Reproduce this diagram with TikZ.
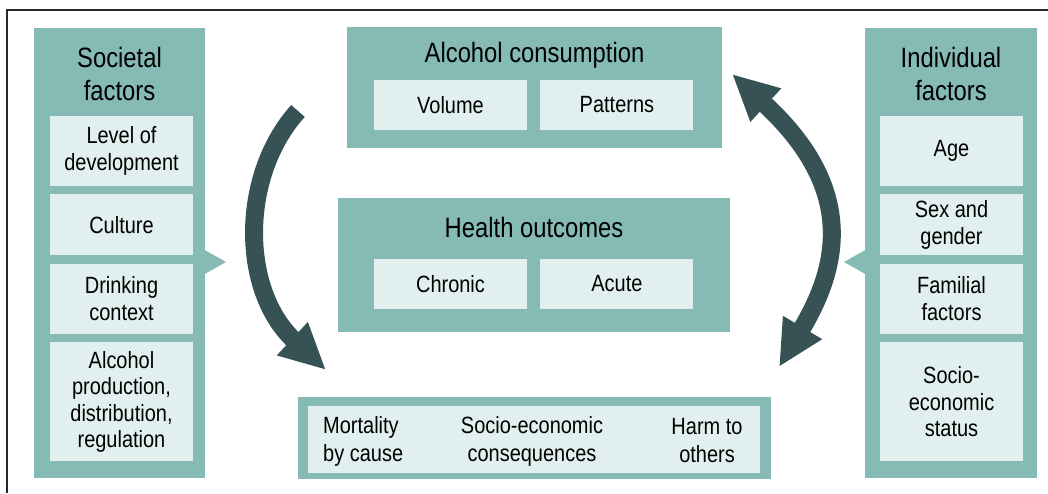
\documentclass[tikz,border=0pt]{standalone}
\usepackage{fontspec}
\setmainfont{Liberation Sans}[FakeStretch=0.85]
\usetikzlibrary{arrows.meta, positioning}
\definecolor{panelteal}{RGB}{133,186,181}
\definecolor{celllight}{RGB}{225,240,238}
\definecolor{arrowslate}{RGB}{55,82,85}
\tikzset{bigtip/.tip={Triangle[length=46pt, width=42pt]}}

\begin{document}
\begin{tikzpicture}[x=1pt, y=-1pt, node distance=8pt,
    panel/.style={fill=panelteal, inner sep=0pt},
    cell/.style={fill=celllight, minimum width=143pt, inner sep=0pt, align=center,
      font=\fontsize{23.5}{26.5}\selectfont},
    celltext/.style={inner sep=0pt, align=center, font=\fontsize{23.5}{28}\selectfont},
    heading/.style={inner sep=0pt, align=center, font=\fontsize{28}{33}\selectfont},
    bigarrow/.style={draw=arrowslate, line width=18pt, -bigtip}]

  \useasboundingbox (0,0) rectangle (1048,493);
  \draw[line width=1.5pt, black!85] (7,493) -- (7,10) -- (1048,10);

  % societal factors
  \node[panel, minimum width=171pt, minimum height=450pt] (socpanel) at (119.5,253) {};
  \node[heading] (soctitle) at (119.5,74) {Societal\\factors};
  \node[cell, minimum height=70pt] (level) at (121.5,151) {Level of\\development};
  \node[cell, minimum height=61pt, below=of level] (culture) {Culture};
  \node[cell, minimum height=70pt, below=of culture] (context) {Drinking\\context};
  \node[cell, minimum height=119pt, below=of context] (production) {Alcohol\\production,\\distribution,\\regulation};
  \fill[panelteal] (203,249) -- (226,262) -- (203,275) -- cycle;

  % individual factors
  \node[panel, minimum width=172pt, minimum height=450pt] (indpanel) at (951,253) {};
  \node[heading] (indtitle) at (951,74) {Individual\\factors};
  \node[cell, minimum height=70pt] (age) at (951.5,151) {Age};
  \node[cell, minimum height=61pt, below=of age] (gender) {Sex and\\gender};
  \node[cell, minimum height=70pt, below=of gender] (familial) {Familial\\factors};
  \node[cell, minimum height=119pt, below=of familial] (status) {Socio-\\economic\\status};
  \fill[panelteal] (867,249) -- (844,262) -- (867,275) -- cycle;

  % alcohol consumption
  \node[panel, minimum width=375pt, minimum height=121pt] (usepanel) at (534.5,87.5) {};
  \node[heading, anchor=base] (usetitle) at (534.5,62) {Alcohol consumption};
  \node[cell, minimum width=153pt, minimum height=50pt] (volume) at (450.5,105) {Volume};
  \node[cell, minimum width=153pt, minimum height=50pt, right=13pt of volume] (patterns) {Patterns};

  % health outcomes
  \node[panel, minimum width=392pt, minimum height=134pt] (healthpanel) at (534,265) {};
  \node[heading, anchor=base] (healthtitle) at (534,237) {Health outcomes};
  \node[cell, minimum width=153pt, minimum height=50pt] (chronic) at (450.5,284) {Chronic};
  \node[cell, minimum width=153pt, minimum height=50pt, right=13pt of chronic] (acute) {Acute};

  % social outcomes
  \node[panel, minimum width=473pt, minimum height=82pt] (outpanel) at (534.5,438) {};
  \node[cell, minimum width=452pt, minimum height=67pt] (outcell) at (534,439.5) {};
  \node[celltext, align=left, anchor=west] (mortality) at (323,441) {Mortality\\by cause};
  \node[celltext] (socioeco) at (532,441) {Socio-economic\\consequences};
  \node[celltext] (harm) at (707,441) {Harm to\\others};

  % arrows
  \coordinate (lefttop) at (298,111);
  \coordinate (leftend) at (326,370);
  \coordinate (rightlow) at (779,367);
  \coordinate (rightup) at (732,74);
  \draw[bigarrow] (lefttop) .. controls (240,175) and (240,290) .. (leftend);
  \draw[bigarrow, bigtip-bigtip] (rightlow) .. controls (838,268) and (858,190) .. (rightup);

\end{tikzpicture}
\end{document}
